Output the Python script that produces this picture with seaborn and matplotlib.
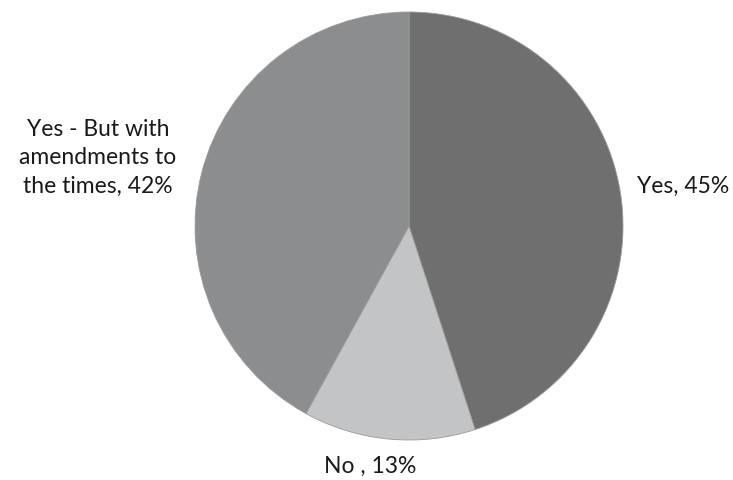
import matplotlib
matplotlib.use("Agg")
import matplotlib.pyplot as plt
import seaborn as sns

categories = ["Yes", "No ", "Yes - But with\namendments to\nthe times"]
values = [45, 13, 42]
colors = ["#6f6f6f", "#c3c4c5", "#8c8d8e"]

sns.set_theme(style="white")
plt.rcParams['font.family'] = ['Lato', 'DejaVu Sans']

fig = plt.figure(figsize=(7.33, 4.81), dpi=100)
cx, cy, r = 409, 227, 214
W, H = 733, 481
ax = fig.add_axes([(cx - r) / W, (H - cy - r) / H, 2 * r / W, 2 * r / H])
ax.pie(values, colors=colors, startangle=90, counterclock=False,
       wedgeprops=dict(edgecolor="#9a9a9a", linewidth=0.6))
ax.set_xlim(-1, 1)
ax.set_ylim(-1, 1)
ax.set_aspect("auto")
ax.axis("off")

def pos(px, py):
    return (px - cx) / r, (cy - py) / r

label_px = [(683, 186), (370, 466), (98, 158)]
for cat, v, (px, py) in zip(categories, values, label_px):
    x, y = pos(px, py)
    ax.text(x, y, f"{cat}, {v}%", ha="center", va="center", fontsize=16.5,
            color="#1a1a1a", linespacing=1.45, clip_on=False)

fig.savefig("out.png", dpi=100)
